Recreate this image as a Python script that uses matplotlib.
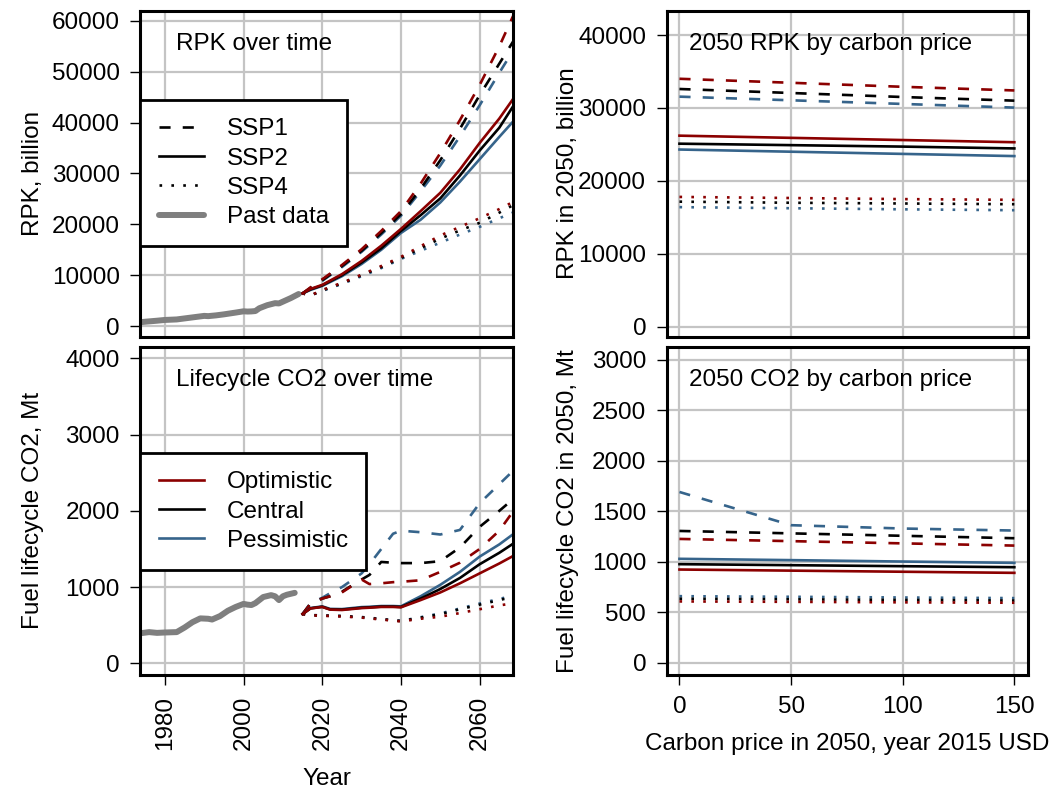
#!/usr/bin/env python3
"""Aviation RPK and lifecycle CO2: time paths (left) and 2050 carbon-price response (right).

Output:
    out.png
"""

import matplotlib

matplotlib.use("Agg")
import matplotlib.pyplot as plt  # noqa: E402
from matplotlib.lines import Line2D  # noqa: E402

# ---- data ------------------------------------------------------------------
PAST_YEARS_RPK = [1973, 1975, 1978, 1980, 1983, 1985, 1988, 1990, 1991, 1993, 1995, 1998,
                  2000, 2001, 2002, 2003, 2004, 2006, 2008, 2009, 2010, 2012, 2014]
PAST_RPK = [700, 850, 1050, 1200, 1300, 1500, 1800, 2000, 1950, 2100, 2300, 2650,
            2900, 2850, 2880, 2950, 3500, 4100, 4500, 4450, 4800, 5500, 6300]

PAST_YEARS_CO2 = [1973, 1976, 1978, 1980, 1983, 1985, 1987, 1989, 1991, 1992, 1994, 1996,
                  1998, 2000, 2001, 2002, 2003, 2005, 2007, 2008, 2009, 2010, 2011, 2013]
PAST_CO2 = [390, 410, 400, 405, 410, 470, 540, 590, 585, 575, 620, 690,
            740, 780, 770, 765, 790, 870, 895, 880, 830, 880, 900, 925]

RPK_YEARS = [2015, 2017, 2020, 2025, 2030, 2035, 2040, 2045, 2050, 2055, 2060, 2065, 2070]
RPK_SSP1_OPT = [6430, 7600, 9200, 12000, 15100, 18700, 22600, 28000, 34000, 40500, 47400, 55000, 63500]
RPK_SSP1_CEN = [6430, 7500, 9000, 11800, 14800, 18300, 22000, 27000, 32600, 38800, 45400, 51600, 57800]
RPK_SSP1_PES = [6430, 7400, 8900, 11600, 14600, 18000, 21700, 26500, 31550, 37300, 43400, 49800, 56000]
RPK_SSP2_OPT = [6430, 7300, 8100, 10200, 12800, 15800, 19100, 22600, 26200, 30800, 36000, 40800, 46300]
RPK_SSP2_CEN = [6430, 7200, 8000, 10000, 12500, 15300, 18700, 21800, 25100, 29600, 34500, 39000, 45000]
RPK_SSP2_PES = [6430, 7100, 7900, 9800, 12200, 15000, 18300, 20900, 24300, 28400, 32800, 37200, 41500]
RPK_SSP4_OPT = [6430, 6000, 7100, 8500, 10100, 11800, 13600, 15700, 17800, 19500, 21200, 23000, 25000]
RPK_SSP4_CEN = [6430, 6000, 7000, 8400, 10000, 11600, 13400, 15300, 17200, 18800, 20300, 22300, 24400]
RPK_SSP4_PES = [6430, 6000, 6900, 8300, 9800, 11400, 13200, 14800, 16400, 18000, 19500, 21200, 22800]

CO2_YEARS = [2015, 2017, 2020, 2022, 2025, 2030, 2032, 2035, 2038, 2040, 2045, 2050, 2055, 2060, 2065, 2070]
CO2_SSP1_OPT = [647, 780, 850, 880, 930, 1100, 1040, 1050, 1065, 1070, 1090, 1200, 1320, 1500, 1740, 2100]
CO2_SSP1_CEN = [647, 780, 850, 880, 940, 1100, 1160, 1330, 1320, 1315, 1315, 1340, 1520, 1790, 2000, 2220]
CO2_SSP1_PES = [647, 790, 860, 920, 1000, 1180, 1300, 1500, 1700, 1740, 1720, 1690, 1750, 2100, 2350, 2600]
CO2_SSP2_OPT = [647, 720, 740, 705, 700, 725, 730, 740, 740, 735, 830, 930, 1050, 1180, 1310, 1450]
CO2_SSP2_CEN = [647, 722, 742, 708, 705, 730, 735, 745, 745, 740, 850, 975, 1120, 1300, 1450, 1620]
CO2_SSP2_PES = [647, 725, 748, 715, 712, 738, 742, 752, 752, 748, 880, 1030, 1200, 1400, 1560, 1750]
CO2_SSP4_OPT = [647, 630, 625, 620, 615, 600, 590, 575, 560, 550, 585, 612, 660, 710, 760, 800]
CO2_SSP4_CEN = [647, 632, 628, 624, 620, 605, 595, 580, 565, 555, 600, 645, 710, 770, 830, 890]
CO2_SSP4_PES = [647, 634, 630, 626, 622, 608, 598, 583, 568, 558, 605, 655, 720, 785, 845, 905]

PRICES = [0, 50, 100, 150]
RPK2050_SSP1_OPT = [34000, 33450, 32900, 32400]
RPK2050_SSP1_CEN = [32600, 32050, 31500, 31000]
RPK2050_SSP1_PES = [31550, 31050, 30550, 30050]
RPK2050_SSP2_OPT = [26200, 25900, 25600, 25300]
RPK2050_SSP2_CEN = [25100, 24900, 24700, 24450]
RPK2050_SSP2_PES = [24300, 24000, 23700, 23400]
RPK2050_SSP4_OPT = [17800, 17650, 17500, 17400]
RPK2050_SSP4_CEN = [17150, 17000, 16900, 16800]
RPK2050_SSP4_PES = [16400, 16250, 16100, 15980]

CO22050_SSP1_OPT = [1227, 1205, 1183, 1161]
CO22050_SSP1_CEN = [1306, 1282, 1258, 1234]
CO22050_SSP1_PES = [1692, 1363, 1330, 1310]
CO22050_SSP2_OPT = [924, 913, 902, 891]
CO22050_SSP2_CEN = [977, 967, 957, 947]
CO22050_SSP2_PES = [1030, 1017, 1003, 990]
CO22050_SSP4_OPT = [608, 604, 599, 595]
CO22050_SSP4_CEN = [635, 629, 623, 617]
CO22050_SSP4_PES = [660, 654, 647, 641]

# ---- styling ----------------------------------------------------------------
FS = 17.5
RED = "#8b0000"
BLUE = "#36648b"
BLACK = "#000000"
GRAY = "#7f7f7f"
GRID = "#c4c4c4"
LW = 1.9
STYLES = {"SSP1": (0, (4.2, 4.6)), "SSP2": "-", "SSP4": (0, (1, 3.5))}

plt.rcParams["font.family"] = ["Liberation Sans", "DejaVu Sans"]


def style_axes(ax, show_x):
    ax.grid(True, color=GRID, lw=1.6)
    ax.set_axisbelow(True)
    for sp in ax.spines.values():
        sp.set_linewidth(2.2)
    ax.tick_params(direction="out", length=7, width=1, pad=8, labelsize=FS)
    if not show_x:
        ax.tick_params(axis="x", bottom=False, labelbottom=False)


def draw(ax, x, series):
    # pessimistic first so optimistic (red) ends up on top
    for ssp, vals in series:
        for color, v in zip([BLUE, BLACK, RED], vals[::-1]):
            ax.plot(x, v, color=color, lw=LW, ls=STYLES[ssp], dash_capstyle="butt")


def main():
    fig = plt.figure(figsize=(10.54, 7.91), dpi=100)
    ax_rpk = fig.add_axes([0.1333, 0.5743, 0.3531, 0.4124])
    ax_co2 = fig.add_axes([0.1333, 0.1466, 0.3531, 0.4150])
    ax_rpk_p = fig.add_axes([0.6328, 0.5743, 0.3425, 0.4124])
    ax_co2_p = fig.add_axes([0.6328, 0.1466, 0.3425, 0.4150])

    # left column: over time
    ax_rpk.plot(PAST_YEARS_RPK, PAST_RPK, color=GRAY, lw=4.3, solid_capstyle="round")
    draw(ax_rpk, RPK_YEARS, [
        ("SSP4", (RPK_SSP4_OPT, RPK_SSP4_CEN, RPK_SSP4_PES)),
        ("SSP1", (RPK_SSP1_OPT, RPK_SSP1_CEN, RPK_SSP1_PES)),
        ("SSP2", (RPK_SSP2_OPT, RPK_SSP2_CEN, RPK_SSP2_PES)),
    ])
    ax_co2.plot(PAST_YEARS_CO2, PAST_CO2, color=GRAY, lw=4.3, solid_capstyle="round")
    draw(ax_co2, CO2_YEARS, [
        ("SSP4", (CO2_SSP4_OPT, CO2_SSP4_CEN, CO2_SSP4_PES)),
        ("SSP1", (CO2_SSP1_OPT, CO2_SSP1_CEN, CO2_SSP1_PES)),
        ("SSP2", (CO2_SSP2_OPT, CO2_SSP2_CEN, CO2_SSP2_PES)),
    ])

    # right column: 2050 by carbon price
    draw(ax_rpk_p, PRICES, [
        ("SSP4", (RPK2050_SSP4_OPT, RPK2050_SSP4_CEN, RPK2050_SSP4_PES)),
        ("SSP1", (RPK2050_SSP1_OPT, RPK2050_SSP1_CEN, RPK2050_SSP1_PES)),
        ("SSP2", (RPK2050_SSP2_OPT, RPK2050_SSP2_CEN, RPK2050_SSP2_PES)),
    ])
    draw(ax_co2_p, PRICES, [
        ("SSP4", (CO22050_SSP4_OPT, CO22050_SSP4_CEN, CO22050_SSP4_PES)),
        ("SSP1", (CO22050_SSP1_OPT, CO22050_SSP1_CEN, CO22050_SSP1_PES)),
        ("SSP2", (CO22050_SSP2_OPT, CO22050_SSP2_CEN, CO22050_SSP2_PES)),
    ])

    for ax in (ax_rpk, ax_co2):
        ax.set_xlim(1973.8, 2068.4)
        ax.set_xticks([1980, 2000, 2020, 2040, 2060])
    for ax in (ax_rpk_p, ax_co2_p):
        ax.set_xlim(-5.6, 156.1)
        ax.set_xticks([0, 50, 100, 150])

    ax_rpk.set_ylim(-2100, 62050)
    ax_rpk.set_yticks(range(0, 60001, 10000))
    ax_co2.set_ylim(-153, 4152)
    ax_co2.set_yticks(range(0, 4001, 1000))
    ax_rpk_p.set_ylim(-1370, 43360)
    ax_rpk_p.set_yticks(range(0, 40001, 10000))
    ax_co2_p.set_ylim(-121, 3130)
    ax_co2_p.set_yticks(range(0, 3001, 500))

    style_axes(ax_rpk, False)
    style_axes(ax_rpk_p, False)
    style_axes(ax_co2, True)
    style_axes(ax_co2_p, True)
    ax_co2.tick_params(axis="x", labelrotation=90)

    ax_rpk.set_ylabel("RPK, billion", fontsize=FS)
    ax_co2.set_ylabel("Fuel lifecycle CO2, Mt", fontsize=FS)
    ax_rpk_p.set_ylabel("RPK in 2050, billion", fontsize=FS)
    ax_co2_p.set_ylabel("Fuel lifecycle CO2 in 2050, Mt", fontsize=FS)
    ax_co2.set_xlabel("Year", fontsize=FS)
    ax_co2_p.set_xlabel("Carbon price in 2050, year 2015 USD", fontsize=FS)
    ax_rpk.yaxis.set_label_coords(-0.258, 0.5)
    ax_co2.yaxis.set_label_coords(-0.258, 0.5)
    ax_rpk_p.yaxis.set_label_coords(-0.243, 0.5)
    ax_co2_p.yaxis.set_label_coords(-0.243, 0.5)
    ax_co2.xaxis.set_label_coords(0.5, -0.284)
    ax_co2_p.xaxis.set_label_coords(0.5, -0.177)

    ax_rpk.text(0.0954, 0.879, "RPK over time", transform=ax_rpk.transAxes, fontsize=FS, va="baseline")
    ax_co2.text(0.0954, 0.881, "Lifecycle CO2 over time", transform=ax_co2.transAxes, fontsize=FS,
                va="baseline")
    ax_rpk_p.text(0.061, 0.8795, "2050 RPK by carbon price", transform=ax_rpk_p.transAxes,
                  fontsize=FS, va="baseline")
    ax_co2_p.text(0.061, 0.881, "2050 CO2 by carbon price", transform=ax_co2_p.transAxes,
                  fontsize=FS, va="baseline")

    leg_kw = dict(loc="upper left", fontsize=FS, fancybox=False, framealpha=1, edgecolor="black",
                  borderaxespad=0, handlelength=1.85, handletextpad=0.95, borderpad=0.75,
                  labelspacing=0.3)
    ssp_handles = [
        Line2D([], [], color=BLACK, lw=LW, ls=STYLES["SSP1"], dash_capstyle="butt"),
        Line2D([], [], color=BLACK, lw=LW, ls="-"),
        Line2D([], [], color=BLACK, lw=LW, ls=STYLES["SSP4"], dash_capstyle="butt"),
        Line2D([], [], color=GRAY, lw=4.3, solid_capstyle="round"),
    ]
    leg = ax_rpk.legend(ssp_handles, ["SSP1", "SSP2", "SSP4", "Past data"],
                        bbox_to_anchor=(0, 0.7256), **leg_kw)
    leg.get_frame().set_linewidth(2)
    tech_handles = [Line2D([], [], color=c, lw=LW) for c in (RED, BLACK, BLUE)]
    leg = ax_co2.legend(tech_handles, ["Optimistic", "Central", "Pessimistic"],
                        bbox_to_anchor=(0, 0.676), **leg_kw)
    leg.get_frame().set_linewidth(2)

    fig.savefig("out.png", dpi=100)


if __name__ == "__main__":
    main()
